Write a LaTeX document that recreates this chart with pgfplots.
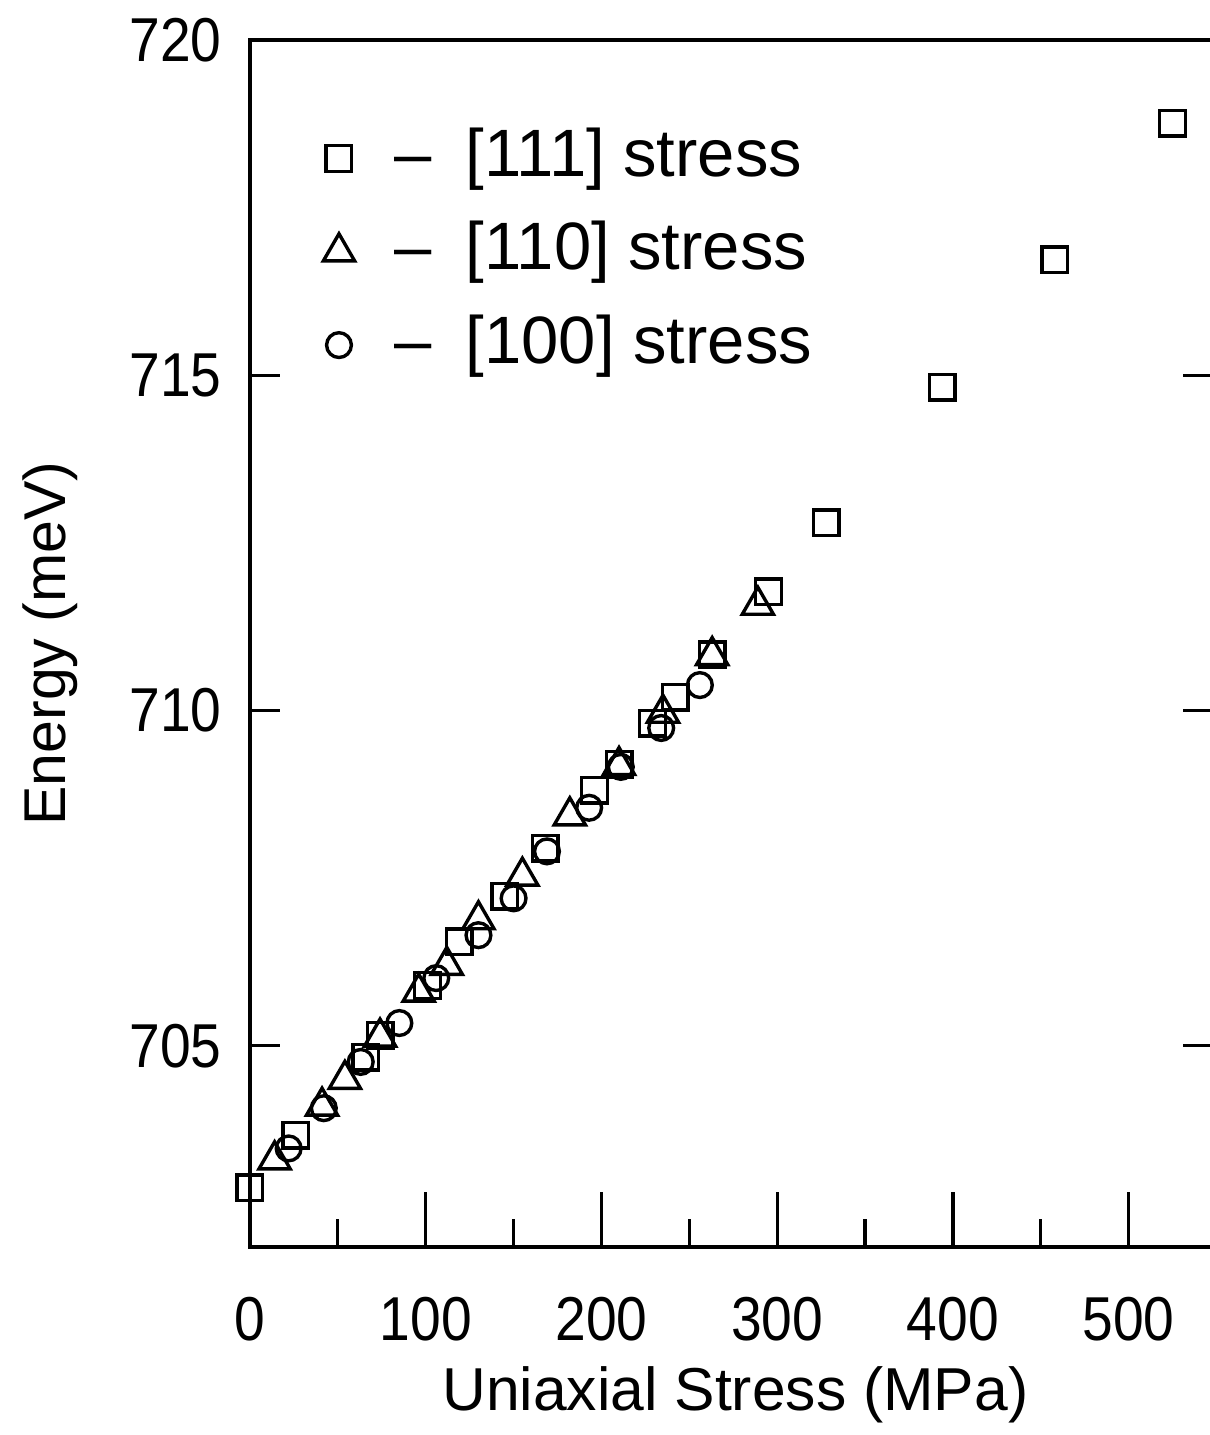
\documentclass[border=0pt]{standalone}
\usepackage{fontspec}
\setmainfont{Liberation Sans}
\newfontfamily\tickfont[FakeStretch=0.89]{Liberation Sans}
\usepackage{pgfplots}
\pgfplotsset{compat=1.18}
\begin{document}
\begin{tikzpicture}
\begin{axis}[
 at={(125pt,94pt)}, anchor=south west,
 scale only axis, width=481.5pt, height=603.5pt,
 xmin=0, xmax=548, ymin=702, ymax=720,
 axis line style={line width=2pt},
 tick align=inside,
 every tick/.style={black, line width=1.6pt},
 clip=false,
 xtick={0,100,...,500},
 minor xtick={50,150,...,450},
 xtick pos=left,
 major tick length=27.5pt, minor tick length=14pt,
 ytick=\empty,
 extra y ticks={705,710,715,720},
 extra y tick style={major tick length=15pt},
 /pgf/number format/assume math mode=true,
 tick label style={font=\fontsize{31}{36}\tickfont},
 xticklabel style={inner sep=0pt, yshift=-25pt},
 yticklabel style={inner sep=0pt, xshift=-14pt},
 xlabel={Uniaxial Stress (MPa)},
 ylabel={Energy (meV)},
 every axis x label/.style={at={(axis description cs:0.504,-0.1226)}, anchor=center, font=\fontsize{30.3}{36}\selectfont},
 every axis y label/.style={at={(axis description cs:-0.2077,0.5)}, anchor=center, rotate=90, font=\fontsize{29.5}{36}\selectfont},
 unbounded coords=jump,
 legend style={draw=none, fill=none, inner sep=0pt,
   at={(axis description cs:0.0758,0.927)}, anchor=north west,
   font=\fontsize{33.5}{38}\selectfont,
   nodes={inner sep=0pt, text height=24pt, text depth=8pt},
   row sep=14.65pt,
   /tikz/every odd column/.append style={column sep=20pt}},
 legend cell align=left,
 legend image code/.code={\draw[#1] plot coordinates {(0pt,1pt)};},
]
% left-side y ticks (inward)
\addplot[forget plot, black, line width=1.6pt, mark=none] coordinates {
(0,705) (17.1,705) (nan,nan) (0,710) (17.1,710) (nan,nan) (0,715) (17.1,715)};
\addplot[only marks, mark=square, mark size=6.4pt, mark options={line width=1.7pt, black}] coordinates {
(0,702.88) (26,703.67) (66,704.83) (74,705.16) (101,705.90) (119,706.55)
(145,707.23) (168,707.95) (196,708.81) (210,709.20) (229,709.81) (242,710.20)
(263,710.83) (295,711.77) (328,712.80) (394,714.82) (458,716.72) (525,718.76)};
\addlegendentry{\textendash\hspace{17pt}[111] stress}
\addplot[only marks, mark=triangle, mark size=9pt, mark options={line width=1.7pt, black}] coordinates {
(14,703.30) (41,704.10) (54,704.50) (74,705.13) (96,705.80) (112,706.20)
(130,706.88) (155,707.53) (182,708.43) (210,709.18) (235,709.96) (263,710.82) (289,711.57)};
\addlegendentry{\textendash\hspace{17pt}[110] stress}
\addplot[only marks, mark=o, mark size=6.2pt, mark options={line width=1.7pt, black}] coordinates {
(22,703.47) (42,704.07) (63,704.76) (85,705.34) (106,706.01) (130,706.65)
(150,707.20) (169,707.90) (193,708.55) (211,709.16) (234,709.74) (256,710.38)};
\addlegendentry{\textendash\hspace{17pt}[100] stress}
\end{axis}
\pgfresetboundingbox
\useasboundingbox (0,0) rectangle (605pt,717.5pt);
\end{tikzpicture}
\end{document}
